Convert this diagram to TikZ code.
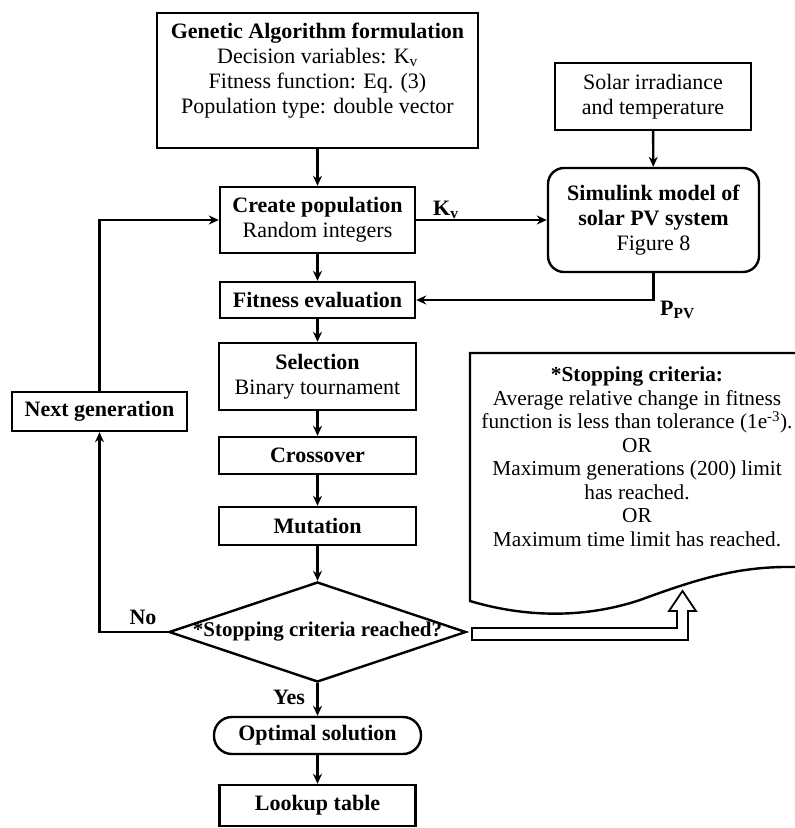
\documentclass[tikz,border=0pt]{standalone}
\usepackage{fontspec}
\setmainfont{Liberation Serif}
\usetikzlibrary{shapes.geometric,arrows.meta}
\begin{document}
\begin{tikzpicture}[x=1pt,y=-1pt,
  every node/.style={font=\fontsize{22}{25}\selectfont},
  box/.style={draw,line width=2.4pt,rectangle,inner sep=0pt,align=center},
  rbox/.style={box,rounded corners=16pt},
  stad/.style={box,rounded corners=18pt},
  dec/.style={draw,line width=2.4pt,diamond,inner sep=0pt,minimum width=297pt,minimum height=100pt},
  lbl/.style={inner sep=0pt,font=\fontsize{22}{25}\selectfont\bfseries},
  arr/.style={line width=2.4pt,-{Stealth[length=10pt,width=9pt]}},
  hollow/.style={draw,line width=1.8pt,fill=white}
]
\useasboundingbox (0,0) rectangle (795,828);

% main column
\node[box,minimum width=321pt,minimum height=135pt] (ga) at (317.5,80.5)
  {\textbf{Genetic Algorithm formulation}\\Decision variables: K\textsubscript{v}\\Fitness function: Eq. (3)\\Population type: double vector\\\mbox{}};
\node[box,minimum width=195pt,minimum height=66pt] (create) at (317.5,220)
  {\textbf{Create population}\\Random integers};
\node[box,minimum width=195pt,minimum height=36pt] (fit) at (317.5,300)
  {\textbf{Fitness evaluation}};
\node[box,minimum width=197pt,minimum height=67pt] (sel) at (317.5,376.5)
  {\textbf{Selection}\\Binary tournament};
\node[box,minimum width=197pt,minimum height=37pt] (cross) at (317.5,455.5)
  {\textbf{Crossover}};
\node[box,minimum width=197pt,minimum height=38pt] (mut) at (317.5,526)
  {\textbf{Mutation}};
\node[dec] (dia) at (317.5,632)
  {\makebox[0pt]{\fontsize{21}{24}\selectfont\textbf{*Stopping criteria reached?}}};
\node[stad,minimum width=207pt,minimum height=37pt] (opt) at (317.5,735.5)
  {\textbf{Optimal solution}};
\node[box,minimum width=196pt,minimum height=41pt] (look) at (317.5,805.5)
  {\textbf{Lookup table}};

% left
\node[box,minimum width=175pt,minimum height=39pt] (nextg) at (99.5,411.5)
  {\textbf{Next generation}};

% right
\node[box,minimum width=196pt,minimum height=67pt] (solar) at (653,96.5)
  {Solar irradiance\\and temperature};
\node[rbox,minimum width=211pt,minimum height=104pt] (sim) at (653.5,220)
  {\textbf{Simulink model of}\\\textbf{solar PV system}\\Figure 8};

% labels
\node[lbl,anchor=base west] (kv) at (433,215) {K\textsubscript{v}};
\node[lbl,anchor=base west] (ppv) at (660,315) {P\textsubscript{PV}};
\node[lbl,anchor=base] (no) at (143,624) {No};
\node[lbl,anchor=base] (yes) at (289,704) {Yes};

% connectors
\draw[arr] (ga) -- (create);
\draw[arr] (create) -- (fit);
\draw[arr] (fit) -- (sel);
\draw[arr] (sel) -- (cross);
\draw[arr] (cross) -- (mut);
\draw[arr] (mut) -- (dia);
\draw[arr] (dia) -- (opt);
\draw[arr] (opt) -- (look);
\draw[arr] (create) -- (sim);
\draw[arr] (solar) -- (sim);
\draw[arr] (sim.south) |- (fit.east);
\draw[arr] (dia.west) -| (nextg.south);
\draw[arr] (nextg.north) |- (create.west);

% stopping criteria document shape
\draw[line width=2.4pt] (795,567) .. controls (740,566) and (700,578) .. (640,600)
  .. controls (580,620) and (520,616) .. (470,601) -- (470,353) -- (800,353);
\node[align=center,inner sep=0pt,font=\fontsize{21.3}{23.5}\selectfont] (crit) at (637,457)
  {\textbf{*Stopping criteria:}\\Average relative change in fitness\\function is less than tolerance (1e\textsuperscript{-3}).\\OR\\Maximum generations (200) limit\\has reached.\\OR\\Maximum time limit has reached.};

% hollow arrow
\draw[hollow] (472,628) -- (677,628) -- (677,611) -- (669,611) -- (682.5,591) -- (696,611)
  -- (688,611) -- (688,640) -- (472,640) -- cycle;
\end{tikzpicture}
\end{document}
